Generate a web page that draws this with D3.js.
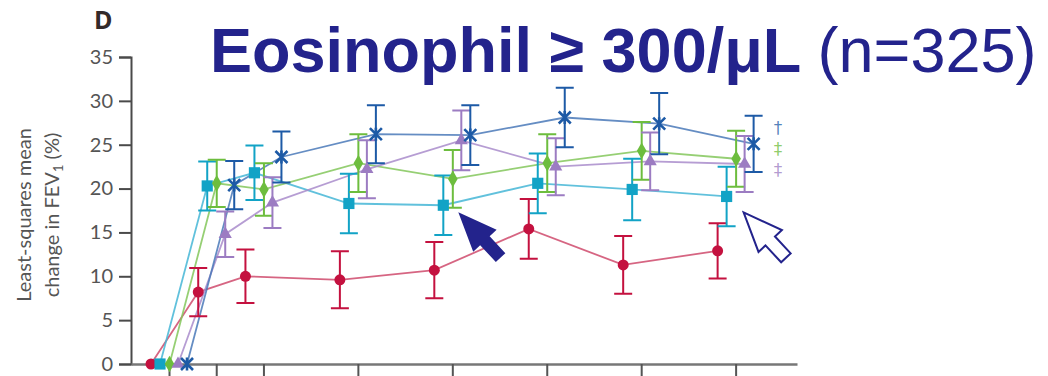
<!DOCTYPE html>
<html>
<head>
<meta charset="utf-8">
<script src="https://cdn.jsdelivr.net/npm/d3@7"></script>
<style>
    body { margin: 0; background: #fff; }
    svg { display: block; }
</style>
</head>
<body>
<div id="chart"></div>
<script>
// visit weeks (x) and y ticks
const weeks = [0, 2, 4, 8, 12, 16, 20, 24];
const yTicks = [0, 5, 10, 15, 20, 25, 30, 35];

// least-squares mean change in FEV1 (%) and its standard error, per group
const placeboMean = [0, 8.2, 10.0, 9.6, 10.7, 15.4, 11.3, 12.9];
const placeboSe = [0, 2.75, 3.05, 3.25, 3.2, 3.4, 3.3, 3.15];
const q4w200Mean = [0, 20.3, 21.8, 18.3, 18.1, 20.6, 19.9, 19.1];
const q4w200Se = [0, 2.8, 3.1, 3.4, 3.4, 3.4, 3.5, 3.4];
const q4w300Mean = [0, 20.6, 19.9, 22.9, 21.1, 22.9, 24.3, 23.4];
const q4w300Se = [0, 2.7, 3.0, 3.3, 3.3, 3.3, 3.3, 3.2];
const q2w200Mean = [0, 14.8, 18.4, 22.2, 25.5, 22.5, 23.1, 22.8];
const q2w200Se = [0, 2.6, 2.9, 3.3, 3.4, 3.25, 3.3, 3.2];
const q2w300Mean = [0, 20.4, 23.6, 26.2, 26.1, 28.1, 27.4, 25.1];
const q2w300Se = [0, 2.75, 2.9, 3.3, 3.4, 3.4, 3.5, 3.2];

// significance marks at the right edge
const markTexts = ["\u2020", "\u2021", "\u2021"];
const markSeries = ["q2w300", "q4w300", "q2w200"];

const series = [
    { key: "placebo", mean: placeboMean, se: placeboSe, color: "#c4113f", line: "#cf4a6c", symbol: "circle", dodge: -18 },
    { key: "q4w200", mean: q4w200Mean, se: q4w200Se, color: "#12a3c6", line: "#45b6d6", symbol: "square", dodge: -9 },
    { key: "q4w300", mean: q4w300Mean, se: q4w300Se, color: "#6dbd3e", line: "#84c75c", symbol: "diamond", dodge: 0.5 },
    { key: "q2w200", mean: q2w200Mean, se: q2w200Se, color: "#9c7cc2", line: "#a98ccb", symbol: "triangle", dodge: 9 },
    { key: "q2w300", mean: q2w300Mean, se: q2w300Se, color: "#1d5aa6", line: "#4a79b8", symbol: "star", dodge: 18 }
];

const width = 1048, height = 376;

const svg = d3.select("#chart")
    .append("svg")
    .attr("width", width)
    .attr("height", height);

svg.append("rect").attr("width", width).attr("height", height).attr("fill", "#fff");

// scales
const x = d3.scaleLinear().domain([-1.61, 26.6]).range([131, 797]);
const y = d3.scaleLinear().domain([0, 35]).range([364, 57]);

// y axis
const yAxis = d3.axisLeft(y).tickValues(yTicks).tickSize(12).tickPadding(6);
const gy = svg.append("g")
    .attr("transform", `translate(${x.range()[0]},0)`)
    .call(yAxis);
gy.select(".domain").attr("stroke", "#4a4a4a").attr("stroke-width", 2);
gy.selectAll(".tick line").attr("stroke", "#4a4a4a").attr("stroke-width", 2);
gy.selectAll(".tick text")
    .attr("fill", "#555")
    .style("font-family", "Lato, 'Open Sans', sans-serif")
    .style("font-size", "20px");

// x axis (labels fall outside the picture)
const xAxis = d3.axisBottom(x).tickValues(weeks).tickSize(14).tickSizeOuter(0).tickFormat("");
const gx = svg.append("g")
    .attr("transform", `translate(0,${y(0)})`)
    .call(xAxis);
gx.select(".domain").attr("stroke", "#777").attr("stroke-width", 2.5);
gx.selectAll(".tick line").attr("stroke", "#555").attr("stroke-width", 2);

// y axis label
const yLabel = svg.append("text")
    .attr("transform", "translate(25,215) rotate(-90)")
    .attr("text-anchor", "middle")
    .attr("fill", "#555")
    .style("font-family", "Lato, 'Open Sans', sans-serif")
    .style("font-size", "20px");
yLabel.append("tspan").attr("x", 0).attr("y", 6).text("Least-squares mean");
yLabel.append("tspan").attr("x", 0).attr("y", 34).text("change in FEV");
yLabel.append("tspan").attr("dy", 4).style("font-size", "13px").text("1");
yLabel.append("tspan").attr("dy", -4).text(" (%)");

// panel letter
svg.append("text")
    .attr("x", 94)
    .attr("y", 29)
    .attr("fill", "#332a2a")
    .style("font-family", "'Open Sans', Lato, sans-serif")
    .style("font-weight", "bold")
    .style("font-size", "25px")
    .text("D");

const px = (s, i) => x(weeks[i]) + s.dodge;

// connecting lines
const lineGen = (s) => d3.line()
    .x((d, i) => px(s, i))
    .y(d => y(d));

const linesG = svg.append("g");
series.forEach(s => {
    linesG.append("path")
        .attr("d", lineGen(s)(s.mean))
        .attr("fill", "none")
        .attr("stroke", s.line)
        .attr("stroke-width", 1.8)
        .attr("stroke-opacity", 0.85);
});

// error bars
const capHalf = 9;
const errG = svg.append("g");
series.forEach(s => {
    const g = errG.append("g").attr("stroke", s.color).attr("stroke-width", 2).attr("fill", "none");
    s.mean.forEach((m, i) => {
        if (s.se[i] === 0) return;
        const cx = px(s, i);
        const y1 = y(m + s.se[i]), y2 = y(m - s.se[i]);
        g.append("path")
            .attr("d", `M${cx},${y1}V${y2}M${cx - capHalf},${y1}H${cx + capHalf}M${cx - capHalf},${y2}H${cx + capHalf}`);
    });
});

// markers
const symbolPath = {
    circle: d3.symbol(d3.symbolCircle, 95)(),
    square: d3.symbol(d3.symbolSquare, 125)(),
    diamond: d3.symbol(d3.symbolDiamond, 80)(),
    triangle: d3.symbol(d3.symbolTriangle, 75)()
};
const markG = svg.append("g");
series.forEach(s => {
    s.mean.forEach((m, i) => {
        const cx = px(s, i), cy = y(m);
        if (s.symbol === "star") {
            markG.append("path")
                .attr("transform", `translate(${cx},${cy})`)
                .attr("d", "M-6,-6L6,6M-6,6L6,-6M0,-6.5V6.5")
                .attr("stroke", s.color)
                .attr("stroke-width", 2.6)
                .attr("fill", "none");
        } else {
            markG.append("path")
                .attr("transform", `translate(${cx},${cy})`)
                .attr("d", symbolPath[s.symbol])
                .attr("fill", s.color);
        }
    });
});

// significance daggers
const colorOf = k => series.find(s => s.key === k).color;
svg.append("g")
    .selectAll("text")
    .data(markTexts)
    .join("text")
    .attr("x", 778)
    .attr("y", (d, i) => 134 + i * 21)
    .attr("text-anchor", "middle")
    .attr("fill", (d, i) => colorOf(markSeries[i]))
    .attr("fill-opacity", 0.75)
    .style("font-family", "'DejaVu Sans', sans-serif")
    .style("font-size", "17px")
    .text(d => d);

// arrows pointing at the q4w200 group (week 12 and week 24)
const arrowShape = "M0,0L39,16L39,6.5L62,6.5L62,-6.5L39,-6.5L39,-16Z";
const q4w = series.find(s => s.key === "q4w200");
const i12 = weeks.indexOf(12), i24 = weeks.indexOf(24);
svg.append("path")
    .attr("transform", `translate(${px(q4w, i12) + 15},${y(q4w.mean[i12]) + 7}) rotate(47)`)
    .attr("d", arrowShape)
    .attr("fill", "#23238c");
svg.append("path")
    .attr("transform", `translate(${px(q4w, i24) + 17},${y(q4w.mean[i24]) + 16}) rotate(47)`)
    .attr("d", arrowShape)
    .attr("fill", "#fff")
    .attr("stroke", "#23238c")
    .attr("stroke-width", 2);

// title
const title = svg.append("text")
    .attr("x", 210)
    .attr("y", 72)
    .attr("fill", "#23238c")
    .style("font-family", "'Liberation Sans', Arial, sans-serif")
    .style("font-size", "63px");
title.append("tspan").style("font-weight", "bold").text("Eosinophil \u2265 300/\u03bcL ");
title.append("tspan").style("font-weight", "normal").text("(n=325)");
</script>
</body>
</html>
